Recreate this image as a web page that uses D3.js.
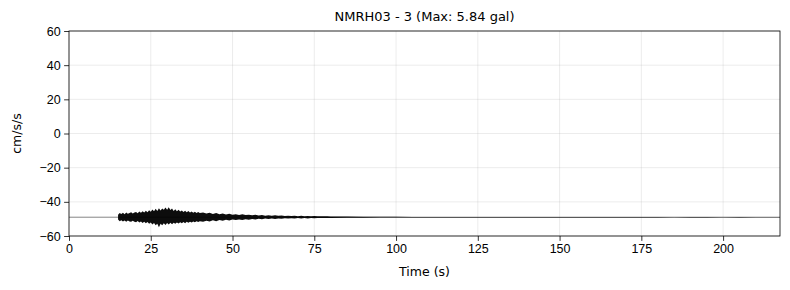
<!DOCTYPE html>
<html>
<head>
<meta charset="utf-8">
<script src="https://cdn.jsdelivr.net/npm/d3@7"></script>
<style>
  body { margin: 0; background: #fff; }
  svg { font-family: "DejaVu Sans", sans-serif; }
  .tick text { font-size: 12.5px; fill: #000; }
  .tick line { stroke: #000; stroke-width: 0.8; }
  .domain { display: none; }
</style>
</head>
<body>
<svg width="790" height="290"></svg>
<script>
// acceleration trace, read off the picture as upper / lower envelope
// values are offsets from the baseline, in cm/s/s
var baseline = -49;

var envTime = [
  15, 15.5, 16, 16.5, 17, 17.5, 18, 18.5, 19, 19.5,
  20, 20.5, 21, 21.5, 22, 22.5, 23, 23.5, 24, 24.5,
  25, 25.5, 26, 26.5, 27, 27.5, 28, 28.5, 29, 29.5,
  30, 30.5, 31, 31.5, 32, 32.5, 33, 33.5, 34, 34.5,
  35, 35.5, 36, 36.5, 37, 37.5, 38, 38.5, 39, 39.5,
  40, 41, 42, 43, 44, 45, 46, 47, 48, 49,
  50, 51, 52, 53, 54, 55, 56, 57, 58, 59,
  60, 61, 62, 63, 64, 65, 66, 67, 68, 69,
  70, 71, 72, 73, 74, 75, 76, 77, 78, 79,
  80, 85, 90, 95, 100, 105, 110, 115, 120, 125,
  130, 135, 140, 145, 150, 155, 160, 165, 170, 175,
  180, 185, 190, 195, 200, 205, 210, 215, 217.4
];

var envUp = [
  1.4, 2.4, 1.9, 2.6, 1.8, 2.7, 2.0, 2.4, 2.9, 2.1,
  2.8, 3.1, 2.3, 3.4, 2.6, 3.5, 2.7, 3.8, 2.9, 4.1,
  3.2, 4.5, 3.5, 4.9, 3.7, 5.3, 4.0, 5.1, 4.3, 5.7,
  4.4, 5.8, 4.2, 5.1, 3.7, 4.7, 3.5, 4.3, 3.3, 4.0,
  3.0, 3.8, 2.9, 3.6, 2.7, 3.3, 2.6, 3.2, 2.4, 3.0,
  2.4, 2.7, 2.1, 2.6, 1.9, 2.4, 1.8, 2.2, 1.6, 2.0,
  1.5, 1.8, 1.3, 1.7, 1.3, 1.5, 1.1, 1.4, 1.0, 1.3,
  0.9, 1.2, 0.8, 1.1, 0.8, 1.0, 0.7, 0.9, 0.7, 0.8,
  0.6, 0.8, 0.6, 0.7, 0.5, 0.7, 0.5, 0.6, 0.5, 0.5,
  0.45, 0.35, 0.3, 0.25, 0.2, 0.15, 0.15, 0.12, 0.15, 0.12,
  0.12, 0.12, 0.12, 0.1, 0.12, 0.1, 0.12, 0.1, 0.1, 0.12,
  0.1, 0.1, 0.12, 0.1, 0.1, 0.1, 0.1, 0.1, 0.08
];

var envLow = [
  -1.3, -2.3, -1.8, -2.5, -1.9, -2.6, -1.9, -2.5, -2.7, -2.0,
  -2.7, -3.0, -2.2, -3.1, -2.5, -3.4, -2.7, -3.6, -2.8, -3.9,
  -3.1, -4.3, -3.4, -4.7, -3.8, -5.84, -3.9, -4.7, -3.5, -4.5,
  -3.4, -4.3, -3.3, -4.1, -3.2, -3.9, -3.1, -3.7, -3.0, -3.6,
  -2.8, -3.5, -2.7, -3.3, -2.6, -3.1, -2.5, -3.0, -2.3, -2.8,
  -2.3, -2.6, -2.0, -2.5, -1.8, -2.3, -1.7, -2.1, -1.5, -1.9,
  -1.4, -1.7, -1.3, -1.6, -1.2, -1.5, -1.0, -1.3, -0.9, -1.2,
  -0.8, -1.1, -0.7, -1.0, -0.7, -0.9, -0.6, -0.8, -0.6, -0.8,
  -0.5, -0.7, -0.5, -0.7, -0.5, -0.6, -0.5, -0.5, -0.5, -0.5,
  -0.4, -0.3, -0.25, -0.2, -0.15, -0.12, -0.15, -0.12, -0.12, -0.12,
  -0.12, -0.1, -0.12, -0.1, -0.1, -0.1, -0.1, -0.1, -0.1, -0.1,
  -0.1, -0.08, -0.1, -0.1, -0.08, -0.1, -0.08, -0.08, -0.08
];

var xTicks = [0, 25, 50, 75, 100, 125, 150, 175, 200];
var yTicks = [-60, -40, -20, 0, 20, 40, 60];

var trace = envTime.map(function(t, i) {
  return { t: t, up: baseline + envUp[i], low: baseline + envLow[i] };
});

var svg = d3.select("svg");
var margin = { top: 31, right: 10, bottom: 54, left: 69 },
  width = 790 - margin.left - margin.right,
  height = 290 - margin.top - margin.bottom;

var x = d3.scaleLinear().domain([0, 217.4]).range([0, width]);
var y = d3.scaleLinear().domain([-60, 60]).range([height, 0]);

var g = svg.append("g")
  .attr("transform", "translate(" + margin.left + "," + margin.top + ")");

// grid
g.selectAll(".vgrid")
  .data(xTicks)
  .enter()
  .append("line")
  .attr("x1", function(d) { return x(d); })
  .attr("x2", function(d) { return x(d); })
  .attr("y1", 0)
  .attr("y2", height)
  .attr("stroke", "#b0b0b0")
  .attr("stroke-opacity", 0.3)
  .attr("stroke-width", 0.8);

g.selectAll(".hgrid")
  .data(yTicks)
  .enter()
  .append("line")
  .attr("x1", 0)
  .attr("x2", width)
  .attr("y1", function(d) { return y(d); })
  .attr("y2", function(d) { return y(d); })
  .attr("stroke", "#b0b0b0")
  .attr("stroke-opacity", 0.3)
  .attr("stroke-width", 0.8);

// baseline
g.append("line")
  .attr("x1", 0)
  .attr("x2", width)
  .attr("y1", y(baseline))
  .attr("y2", y(baseline))
  .attr("stroke", "#666")
  .attr("stroke-width", 0.8);

// trace drawn as its envelope
var area = d3.area()
  .x(function(d) { return x(d.t); })
  .y0(function(d) { return y(d.low); })
  .y1(function(d) { return y(d.up); })
  .curve(d3.curveLinear);

g.append("path")
  .datum(trace)
  .attr("d", area)
  .attr("fill", "#000")
  .attr("fill-opacity", 0.95)
  .attr("stroke", "none");

// axes
g.append("g")
  .attr("transform", "translate(0," + height + ")")
  .call(d3.axisBottom(x).tickValues(xTicks).tickSize(4.9).tickPadding(3.5).tickFormat(d3.format("d")));

g.append("g")
  .call(d3.axisLeft(y).tickValues(yTicks).tickSize(4.9).tickPadding(3.5).tickFormat(d3.format("d")));

// frame
g.append("rect")
  .attr("width", width)
  .attr("height", height)
  .attr("fill", "none")
  .attr("stroke", "#000")
  .attr("stroke-width", 0.8);

// labels
svg.append("text")
  .attr("x", margin.left + width / 2)
  .attr("y", 21)
  .attr("text-anchor", "middle")
  .attr("font-size", "13px")
  .text("NMRH03 - 3 (Max: 5.84 gal)");

svg.append("text")
  .attr("x", margin.left + width / 2)
  .attr("y", 276)
  .attr("text-anchor", "middle")
  .attr("font-size", "12.5px")
  .text("Time (s)");

svg.append("text")
  .attr("transform", "translate(21," + (margin.top + height / 2) + ") rotate(-90)")
  .attr("text-anchor", "middle")
  .attr("font-size", "12.5px")
  .text("cm/s/s");
</script>
</body>
</html>
